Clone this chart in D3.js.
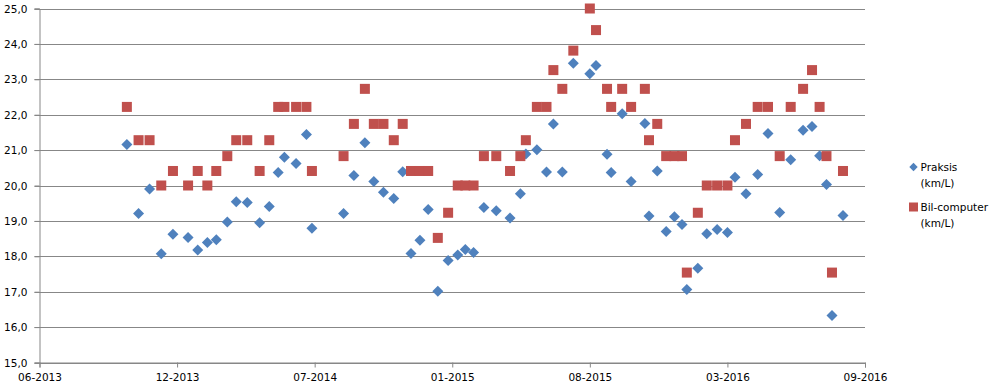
<!DOCTYPE html>
<html><head><meta charset="utf-8">
<script src="https://cdn.jsdelivr.net/npm/d3@7"></script>
<style>
body{margin:0;background:#fff}
svg{display:block}
text{font-family:"DejaVu Sans",Verdana,sans-serif;font-size:10.5px;fill:#000}
</style>
</head><body>
<svg id="chart" width="994" height="390"></svg>
<script>
const dates = ["2013-10-15","2013-11-01","2013-11-17","2013-12-04","2013-12-21","2014-01-12","2014-01-26","2014-02-09","2014-02-22","2014-03-10",
"2014-03-23","2014-04-08","2014-04-26","2014-05-10","2014-05-23","2014-06-01","2014-06-18","2014-07-03","2014-07-11","2014-08-26",
"2014-09-10","2014-09-26","2014-10-09","2014-10-23","2014-11-07","2014-11-20","2014-12-02","2014-12-15","2014-12-27","2015-01-10",
"2015-01-25","2015-02-08","2015-02-19","2015-03-03","2015-03-18","2015-04-05","2015-04-25","2015-05-10","2015-05-18","2015-06-03",
"2015-06-17","2015-06-27","2015-07-10","2015-07-26","2015-08-19","2015-08-28","2015-09-13","2015-09-19","2015-10-05","2015-10-18",
"2015-11-07","2015-11-13","2015-11-25","2015-12-08","2015-12-20","2015-12-31","2016-01-07","2016-01-23","2016-02-05","2016-02-20",
"2016-03-06","2016-03-17","2016-04-02","2016-04-19","2016-05-04","2016-05-21","2016-06-06","2016-06-24","2016-07-07","2016-07-18",
"2016-07-28","2016-08-05","2016-08-21"];
const praksis = [21.16,19.21,19.90,18.07,18.62,18.53,18.18,18.39,18.47,18.97,
19.54,19.52,18.95,19.41,20.37,20.80,20.62,21.44,18.79,19.21,
20.28,21.21,20.11,19.81,19.63,20.39,18.08,18.45,19.32,17.01,
17.88,18.04,18.19,18.11,19.38,19.29,19.08,19.77,20.89,21.01,
20.38,21.74,20.38,23.45,23.16,23.39,20.88,20.37,22.03,20.11,
21.75,19.14,20.41,18.70,19.12,18.90,17.06,17.66,18.64,18.76,
18.67,20.23,19.77,20.31,21.47,19.24,20.73,21.56,21.67,20.84,
20.03,16.33,19.15];
const bilComputer = [22.22,21.28,21.28,20.00,20.41,20.00,20.41,20.00,20.41,20.83,
21.28,21.28,20.41,21.28,22.22,22.22,22.22,22.22,20.41,20.83,
21.74,22.73,21.74,21.74,21.28,21.74,20.41,20.41,20.41,18.52,
19.23,20.00,20.00,20.00,20.83,20.83,20.41,20.83,21.28,22.22,
22.22,23.26,22.73,23.81,25.00,24.39,22.73,22.22,22.73,22.22,
22.73,21.28,21.74,20.83,20.83,20.83,17.54,19.23,20.00,20.00,
20.00,21.28,21.74,22.22,22.22,20.83,22.22,22.73,23.26,22.22,
20.83,17.54,20.41];
const xTickDates = ["2013-06-10","2013-12-27","2014-07-15","2015-01-31","2015-08-19","2016-03-06","2016-09-22"];
const yTicks = [15,16,17,18,19,20,21,22,23,24,25];
const seriesLabels = [["Praksis","(km/L)"],["Bil-computer","(km/L)"]];
const colors = ["#4F81BD","#C0504D"];

const parse = d3.utcParse("%Y-%m-%d");
const tickD = xTickDates.map(parse);
const svg = d3.select("#chart");
const x = d3.scaleUtc().domain([tickD[0], tickD[tickD.length-1]]).range([39.5, 865]);
const y = d3.scaleLinear().domain([15,25]).range([362.5, 8.5]);
const grid = "#878787";

// gridlines
svg.append("g").selectAll("line").data(yTicks).join("line")
  .attr("x1", 34.5).attr("x2", x.range()[1])
  .attr("y1", d => Math.round(y(d))+0.5).attr("y2", d => Math.round(y(d))+0.5)
  .attr("stroke", grid).attr("stroke-width", 1);

// y axis
const yAxis = svg.append("g").attr("transform", "translate(39.5,0)")
  .call(d3.axisLeft(y).tickValues(yTicks).tickSize(5).tickPadding(7)
    .tickFormat(d => d3.format(".1f")(d).replace(".", ",")));
yAxis.select(".domain").attr("stroke", grid);
yAxis.selectAll(".tick line").attr("stroke", grid);
yAxis.selectAll("text").attr("font-family", null).attr("font-size", null).attr("dy","0.35em");

// x axis
const xAxis = svg.append("g").attr("transform", "translate(0,362.5)")
  .call(d3.axisBottom(x).tickValues(tickD).tickSize(5).tickPadding(6)
    .tickFormat(d3.utcFormat("%m-%Y")));
xAxis.select(".domain").attr("stroke", grid);
xAxis.selectAll(".tick line").attr("stroke", grid);
xAxis.selectAll("text").attr("font-family", null).attr("font-size", null);

const pts = dates.map((d,i) => ({date: parse(d), p: praksis[i], b: bilComputer[i]}));
const diamond = r => `M0,${-r}L${r},0L0,${r}L${-r},0Z`;

svg.append("g").selectAll("path").data(pts).join("path")
  .attr("d", diamond(5.5))
  .attr("transform", d => `translate(${x(d.date)},${y(d.p)})`)
  .attr("fill", colors[0]);

svg.append("g").selectAll("rect").data(pts).join("rect")
  .attr("x", d => x(d.date)-5).attr("y", d => y(d.b)-5)
  .attr("width", 10).attr("height", 10)
  .attr("fill", colors[1]);

// legend
const lg = svg.append("g");
lg.append("path").attr("d", diamond(4.2)).attr("transform","translate(913.5,167)").attr("fill", colors[0]);
lg.append("rect").attr("x", 909).attr("y", 202.5).attr("width", 9).attr("height", 9).attr("fill", colors[1]);
const ly = [[171, 187],[211, 227]];
seriesLabels.forEach((lab,i) => {
  lab.forEach((t,j) => {
    lg.append("text").attr("x", 920.5).attr("y", ly[i][j]).text(t);
  });
});
</script>
</body></html>
